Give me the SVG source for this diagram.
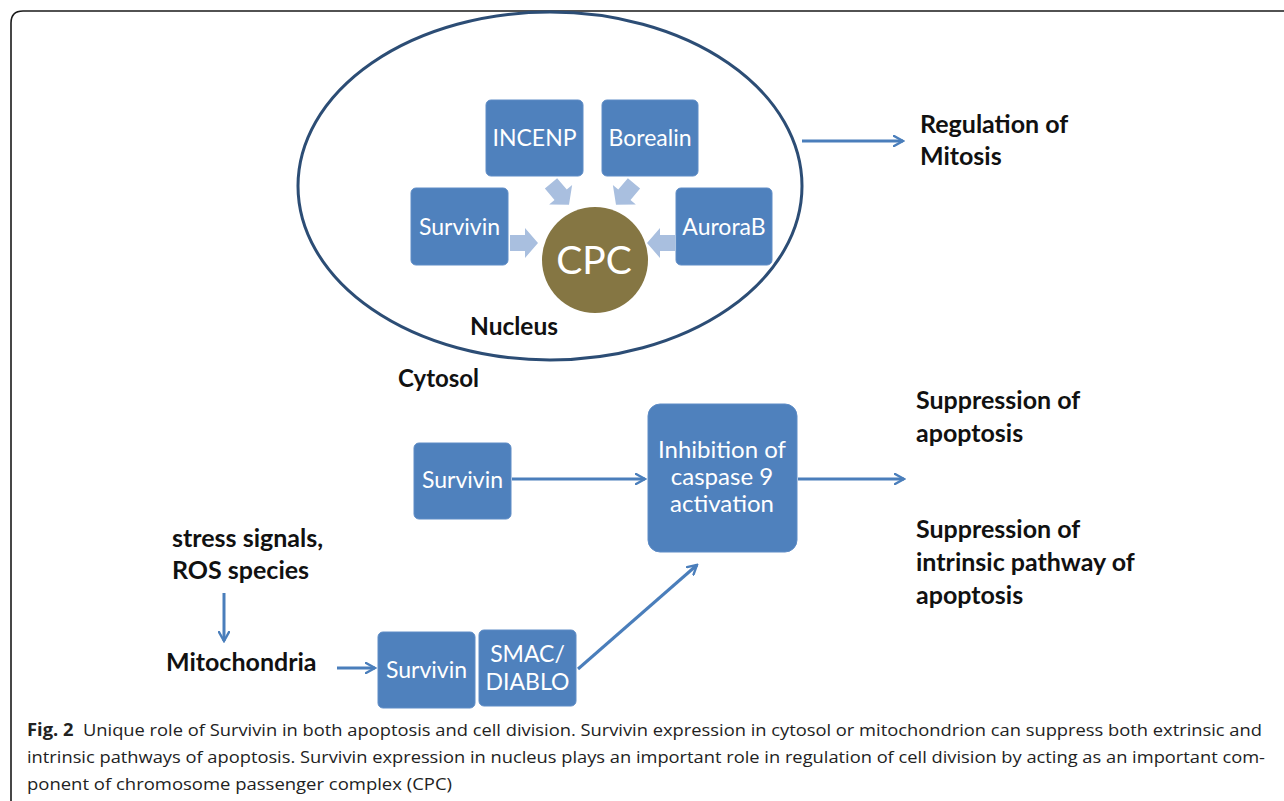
<svg xmlns="http://www.w3.org/2000/svg" width="1284" height="801" viewBox="0 0 1284 801">
<defs>
<style>
.box{fill:#4f81bd;stroke:#5e8cc6;stroke-width:1}
.bt{font-family:Lato,"Open Sans",sans-serif;fill:#fff;font-size:23px;text-anchor:middle}
.lbl{font-family:Lato,"Open Sans",sans-serif;font-weight:bold;fill:#111;font-size:25px}
.ln{stroke:#4a7ebb;stroke-width:3;fill:none}
.blk{fill:#a9bfdf}
.cap{font-family:"Open Sans","Liberation Sans",sans-serif;font-size:17px;fill:#222}
</style>
<marker id="ah" viewBox="0 0 12 12" refX="10" refY="6" markerWidth="12" markerHeight="12" markerUnits="userSpaceOnUse" orient="auto">
<path d="M1,1 L10,6 L1,11" fill="none" stroke="#4a7ebb" stroke-width="2.4" stroke-linecap="round"/>
</marker>
<polygon id="blkarrow" points="-14,-8 1,-8 1,-15 14,0 1,15 1,8 -14,8"/>
</defs>
<rect width="1284" height="801" fill="#fff"/>
<path d="M11,801 L11,23 Q11,11 23,11 L1284,11" fill="none" stroke="#1a1a1a" stroke-width="1.6"/>

<g id="nucleus">
<ellipse cx="550" cy="186" rx="252" ry="174" fill="none" stroke="#2c4d75" stroke-width="3"/>
<text class="lbl" x="470" y="335" style="font-size:24.5px">Nucleus</text>
</g>
<g id="incenp"><rect class="box" x="486" y="100" width="97" height="76" rx="5"/><text class="bt" x="534.5" y="146">INCENP</text></g>
<g id="borealin"><rect class="box" x="602" y="100" width="96" height="76" rx="5"/><text class="bt" x="650" y="146">Borealin</text></g>
<g id="survivin1"><rect class="box" x="411" y="188" width="97" height="77" rx="5"/><text class="bt" x="459.5" y="235">Survivin</text></g>
<g id="aurorab"><rect class="box" x="676" y="188" width="96" height="77" rx="5"/><text class="bt" x="724" y="235">AuroraB</text></g>
<g id="cpc"><circle cx="595" cy="260" r="53" fill="#857643"/><text class="bt" x="594" y="274" style="font-size:39px">CPC</text></g>

<g id="blockarrows">
<use href="#blkarrow" class="blk" transform="translate(560,194) rotate(50)"/>
<use href="#blkarrow" class="blk" transform="translate(625,194) rotate(130)"/>
<use href="#blkarrow" class="blk" transform="translate(524,243)"/>
<use href="#blkarrow" class="blk" transform="translate(661,243) rotate(180)"/>
</g>

<g id="regulation"><text class="lbl" x="920" y="133">Regulation of</text><text class="lbl" x="920" y="165">Mitosis</text></g>
<g id="cytosol"><text class="lbl" x="398" y="387" style="font-size:24px">Cytosol</text></g>

<g id="survivin2"><rect class="box" x="414" y="443" width="97" height="76" rx="5"/><text class="bt" x="462.5" y="488">Survivin</text></g>
<g id="inhibition"><rect class="box" x="648" y="404" width="149" height="148" rx="12"/>
<text class="bt" x="722" y="458" style="font-size:24px">Inhibition of</text>
<text class="bt" x="722" y="485" style="font-size:24px">caspase 9</text>
<text class="bt" x="722" y="512" style="font-size:24px">activation</text></g>

<g id="suppression1"><text class="lbl" x="916" y="409">Suppression of</text><text class="lbl" x="916" y="442">apoptosis</text></g>
<g id="suppression2"><text class="lbl" x="916" y="538">Suppression of</text><text class="lbl" x="916" y="571">intrinsic pathway of</text><text class="lbl" x="916" y="604">apoptosis</text></g>

<g id="stress"><text class="lbl" x="172" y="547">stress signals,</text><text class="lbl" x="172" y="579">ROS species</text></g>
<g id="mitochondria"><text class="lbl" x="166" y="671">Mitochondria</text></g>
<g id="survivin3"><rect class="box" x="378" y="632" width="97" height="76" rx="5"/><text class="bt" x="426.5" y="678">Survivin</text></g>
<g id="smac"><rect class="box" x="479" y="630" width="97" height="76" rx="5"/><text class="bt" x="527.5" y="662">SMAC/</text><text class="bt" x="527.5" y="690">DIABLO</text></g>

<g id="connectors">
<line class="ln" x1="802" y1="141" x2="903" y2="141" marker-end="url(#ah)"/>
<line class="ln" x1="512" y1="479" x2="645" y2="479" marker-end="url(#ah)"/>
<line class="ln" x1="798" y1="479" x2="904" y2="479" marker-end="url(#ah)"/>
<line class="ln" x1="578" y1="669" x2="697" y2="565" marker-end="url(#ah)"/>
<line class="ln" x1="224" y1="593" x2="224" y2="641" marker-end="url(#ah)"/>
<line class="ln" x1="337" y1="668" x2="375" y2="668" marker-end="url(#ah)"/>
</g>

<g id="caption">
<text class="cap" x="27" y="736" textLength="1235" lengthAdjust="spacingAndGlyphs" xml:space="preserve"><tspan font-weight="bold">Fig. 2</tspan>  Unique role of Survivin in both apoptosis and cell division. Survivin expression in cytosol or mitochondrion can suppress both extrinsic and</text>
<text class="cap" x="27" y="763" textLength="1238" lengthAdjust="spacingAndGlyphs">intrinsic pathways of apoptosis. Survivin expression in nucleus plays an important role in regulation of cell division by acting as an important com-</text>
<text class="cap" x="27" y="790" textLength="425" lengthAdjust="spacingAndGlyphs">ponent of chromosome passenger complex (CPC)</text>
</g>
</svg>
